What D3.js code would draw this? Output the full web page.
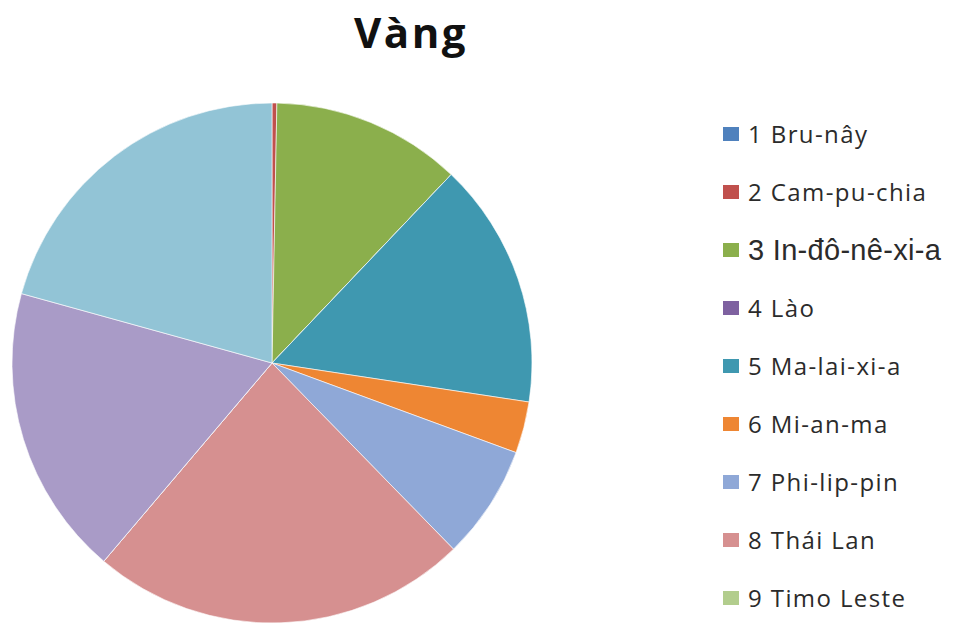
<!DOCTYPE html>
<html>
<head>
<meta charset="utf-8">
<title>Vàng</title>
<script src="https://cdnjs.cloudflare.com/ajax/libs/d3/7.8.5/d3.min.js"></script>
<style>
  body { margin: 0; background: #fff; }
  .title { font-family: "Open Sans", "Noto Sans", sans-serif; font-weight: bold; fill: #111; }
  .legend text { font-family: "Open Sans", "Noto Sans", sans-serif; fill: #2b2b2b; }
  .legend text.wide { font-family: "Liberation Sans", Arial, sans-serif; }
</style>
</head>
<body>
<script>
// categories and shares (%)
var countries = ["1 Bru-nây", "2 Cam-pu-chia", "3 In-đô-nê-xi-a", "4 Lào", "5 Ma-lai-xi-a",
                 "6 Mi-an-ma", "7 Phi-lip-pin", "8 Thái Lan", "9 Timo Leste", "10 Việt Nam", "11 Xin-ga-po"];
var shares = [0, 0.3, 11.8, 0, 15.3, 3.2, 7.1, 23.5, 0, 18.1, 20.7];
var colors = ["#4F81BD", "#C0504D", "#8BAF4C", "#7E61A0", "#3F98B0",
              "#EE8633", "#8FA8D7", "#D69090", "#B2CD8D", "#A99BC7", "#92C4D6"];
var legendCount = 9; // legend only lists the first nine

var w = 959, h = 626;
var cx = 272, cy = 363, r = 260;

var svg = d3.select("body").append("svg")
    .attr("width", w)
    .attr("height", h);

// title
svg.append("text")
   .attr("class", "title")
   .attr("x", 411)
   .attr("y", 48)
   .attr("text-anchor", "middle")
   .style("font-size", "42px")
   .style("letter-spacing", "2.5px")
   .text("Vàng");

// pie, clockwise from 12 o'clock in data order
var pie = d3.pie().sort(null).value(function(d) { return d; });
var arc = d3.arc().innerRadius(0).outerRadius(r);

var color = d3.scaleOrdinal().domain(countries).range(colors);

svg.append("g")
   .attr("transform", "translate(" + cx + "," + cy + ")")
   .selectAll("path")
   .data(pie(shares))
   .enter()
   .append("path")
   .attr("d", arc)
   .attr("fill", function(d, i) { return color(countries[i]); })
   .attr("stroke", "#fff")
   .attr("stroke-width", 0.6);

// legend
var y = d3.scalePoint()
    .domain(countries.slice(0, legendCount))
    .range([134, 598]);

var legend = svg.append("g").attr("class", "legend")
    .selectAll("g")
    .data(countries.slice(0, legendCount))
    .enter()
    .append("g")
    .attr("transform", function(d) { return "translate(723," + y(d) + ")"; });

legend.append("rect")
   .attr("x", 0)
   .attr("y", -7)
   .attr("width", 16)
   .attr("height", 14)
   .attr("fill", function(d) { return color(d); });

// the third entry is rendered in a wider face in the original
legend.append("text")
   .attr("class", function(d, i) { return i === 2 ? "wide" : null; })
   .attr("x", 25)
   .attr("y", 0)
   .attr("dy", "0.36em")
   .style("font-size", function(d, i) { return i === 2 ? "29px" : "24px"; })
   .style("letter-spacing", function(d, i) { return i === 2 ? "0.3px" : "1.4px"; })
   .text(function(d) { return d; });
</script>
</body>
</html>
